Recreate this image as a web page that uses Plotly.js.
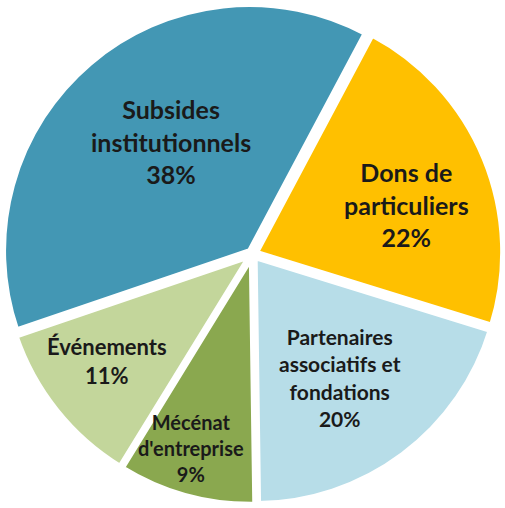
<!DOCTYPE html>
<html>
<head>
<meta charset="utf-8">
<script src="https://cdn.plot.ly/plotly-3.0.1.min.js"></script>
<style>html,body{margin:0;padding:0;background:#fff;}#chart{width:505px;height:508px;}</style>
</head>
<body>
<div id="chart"></div>
<script>
// ---- data ----
const categories = ["Dons de particuliers", "Partenaires associatifs et fondations", "Mécénat d'entreprise", "Événements", "Subsides institutionnels"];
const labelLines = ["Dons de<br>particuliers", "Partenaires<br>associatifs et<br>fondations", "Mécénat<br>d'entreprise", "Événements", "Subsides<br>institutionnels"];
const shares = [22, 20, 9, 11, 38];

// ---- style ----
const colors = ["#FFC000", "#B7DDE8", "#8AA84F", "#C3D69B", "#4397B4"];
const fontSizes = [25, 21, 20, 22, 25];
const startAngle = 28;                                // degrees clockwise from 12 o'clock
const labelRadius = [0.65, 0.61, 0.82, 0.73, 0.56];   // fraction of pie radius
const labelAngleShift = [4.7, 1.6, 2.3, 2.3, 4.5];    // degrees

const W = 505, H = 508, M = 2;
const total = shares.reduce((a, b) => a + b, 0);
const cx = W / 2, cy = 254, R = 248;

const annotations = [];
let cum = 0;
shares.forEach((v, i) => {
  const mid = startAngle + (cum + v / 2) / total * 360 + labelAngleShift[i];
  cum += v;
  const a = mid * Math.PI / 180;
  const px = cx + labelRadius[i] * R * Math.sin(a);
  const py = cy - labelRadius[i] * R * Math.cos(a);
  const pct = Math.round(v / total * 100) + "%";
  annotations.push({
    xref: "paper", yref: "paper",
    x: (px - M) / (W - 2 * M), y: 1 - (py - M) / (H - 2 * M),
    xanchor: "center", yanchor: "middle",
    text: labelLines[i] + "<br>" + pct,
    showarrow: false, align: "center",
    font: {family: "Lato, 'Open Sans', sans-serif", size: fontSizes[i], color: "#1a1a1a", weight: "bold"}
  });
});

Plotly.newPlot("chart", [{
  type: "pie",
  labels: categories,
  values: shares,
  sort: false,
  direction: "clockwise",
  rotation: startAngle,
  pull: 0.018,
  marker: {colors: colors, line: {color: "#ffffff", width: 5}},
  textinfo: "none",
  hoverinfo: "label+percent",
  showlegend: false
}], {
  width: W, height: H,
  margin: {l: M, r: M, t: M, b: M},
  paper_bgcolor: "#ffffff",
  showlegend: false,
  annotations: annotations
}, {displayModeBar: false, staticPlot: true});
</script>
</body>
</html>
